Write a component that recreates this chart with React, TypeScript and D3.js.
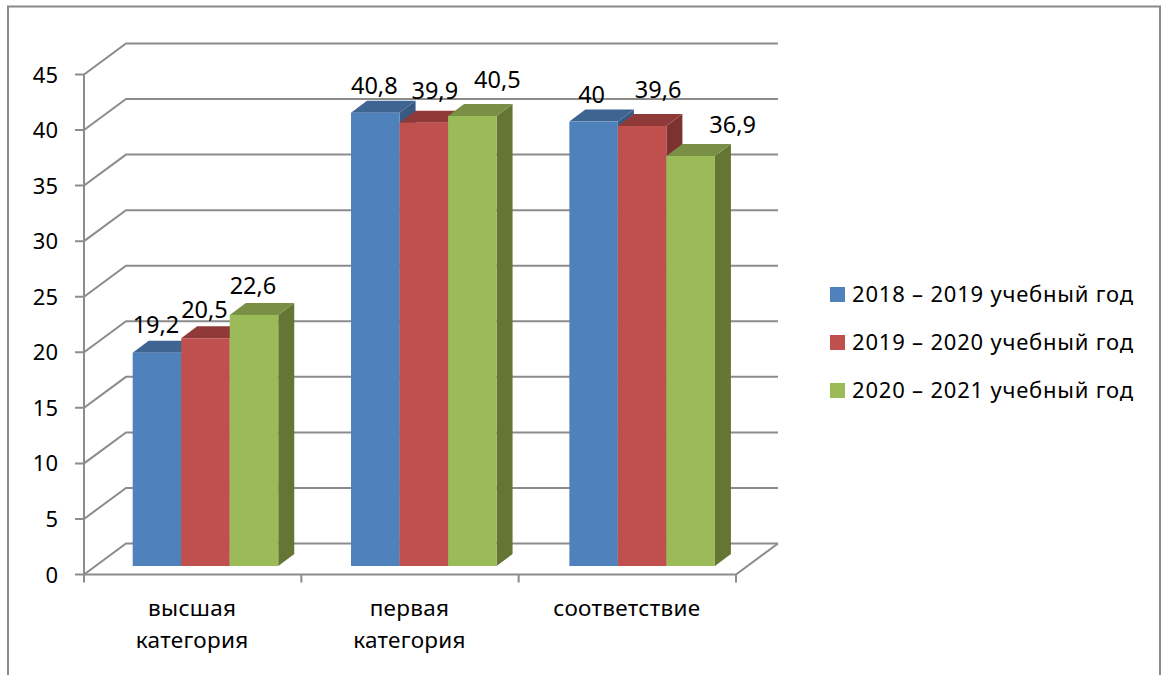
import React from 'react';
import { scaleLinear, scaleBand, range as d3range } from 'd3';

const categories = [['высшая', 'категория'], ['первая', 'категория'], ['соответствие']];
const seriesNames = ['2018 – 2019 учебный год', '2019 – 2020 учебный год', '2020 – 2021 учебный год'];
const values2018 = [19.2, 40.8, 40];
const values2019 = [20.5, 39.9, 39.6];
const values2020 = [22.6, 40.5, 36.9];
const yTicks = [0, 5, 10, 15, 20, 25, 30, 35, 40, 45];

const frontColors = ['#4f81bd', '#c0504d', '#9bbb59'];
const topColors = ['#3e6491', '#8f3a38', '#788f45'];
const sideColors = ['#375a83', '#7e3230', '#647534'];

// hand moved data labels, like in the original (dx, dy from the bar top)
const labelNudge = [
  [[-1, -20], [-1, -20], [-1, -21]],
  [[-1, -19], [11, -24], [25, -28]],
  [[-2, -19], [16, -28], [42, -23]],
];

const width = 1166;
const height = 675;
const font = '"Noto Sans", sans-serif';
const gridColor = '#8c8c8c';

// 3D box: wall is pushed back by (wallDx, wallDy) from the front axis
const wallDx = 42;
const wallDy = -31;
const barShiftY = -8.5;
const depthX = 16;
const depthY = -12;

const yScale = scaleLinear().domain([0, 45]).range([574.5, 74.5]);
const xScale = scaleBand<number>().domain(d3range(categories.length)).range([84, 736]);
// bars sit a bit further back than the front axis, so their step is slightly larger
const barScale = scaleBand<number>().domain(d3range(categories.length)).range([96.3, 751.3]);
const barWidth = (barScale.bandwidth() * 2) / 3 / 3;

const allSeries = [values2018, values2019, values2020];

const barLeft = (c: number) => barScale(c)! + barScale.bandwidth() / 6;

export default function App() {
  const y0 = yScale(0);
  return (
    <svg
      width={width}
      height={height}
      style={{ position: 'absolute', left: 0, top: 0, background: '#fff' }}
      fontFamily={font}
    >
      <path d={`M8,${height}V6.5H1160V${height}`} fill="none" stroke="#8a8a8a" strokeWidth={2} />

      {/* walls */}
      {yTicks.map(t => (
        <path
          key={t}
          d={`M75,${yScale(t)}H84L${84 + wallDx},${yScale(t) + wallDy}H${736 + wallDx}`}
          fill="none"
          stroke={gridColor}
          strokeWidth={2}
        />
      ))}
      <line x1={84} x2={84} y1={yScale(45)} y2={y0 + 8} stroke={gridColor} strokeWidth={2} />
      <path
        d={`M84,${y0}H736L${736 + wallDx},${y0 + wallDy}`}
        fill="none"
        stroke={gridColor}
        strokeWidth={2}
      />
      {d3range(1, categories.length + 1).map(i => {
        const x = 84 + i * xScale.step();
        return <line key={i} x1={x} x2={x} y1={y0} y2={y0 + 8} stroke={gridColor} strokeWidth={2} />;
      })}

      {yTicks.map(t => (
        <text key={t} x={58} y={yScale(t) + 8} textAnchor="end" fontSize={22} fill="#000">
          {t}
        </text>
      ))}

      {/* bars */}
      {categories.map((_, c) => {
        const left = barLeft(c);
        return allSeries.map((vals, s) => {
          const x = left + s * barWidth;
          const yt = yScale(vals[c]) + barShiftY;
          const yb = y0 + barShiftY;
          const xr = x + barWidth;
          return (
            <g key={s}>
              <path
                d={`M${xr},${yt}L${xr + depthX},${yt + depthY}V${yb + depthY}L${xr},${yb}Z`}
                fill={sideColors[s]}
              />
              <path
                d={`M${x},${yt}L${x + depthX},${yt + depthY}H${xr + depthX}L${xr},${yt}Z`}
                fill={topColors[s]}
              />
              <rect x={x} y={yt} width={barWidth} height={yb - yt} fill={frontColors[s]} />
            </g>
          );
        });
      })}

      {/* data labels */}
      {categories.map((_, c) =>
        allSeries.map((vals, s) => (
          <text
            key={s}
            x={barLeft(c) + (s + 0.5) * barWidth + labelNudge[c][s][0]}
            y={yScale(vals[c]) + barShiftY + labelNudge[c][s][1]}
            textAnchor="middle"
            fontSize={23.5}
            fill="#000"
          >
            {String(vals[c]).replace('.', ',')}
          </text>
        )),
      )}

      {/* category labels */}
      {categories.map((lines, c) => (
        <text key={c} textAnchor="middle" fontSize={22.5} letterSpacing={0.3} fill="#000">
          {lines.map((l, i) => (
            <tspan key={i} x={xScale(c)! + xScale.bandwidth() / 2 - 0.5} y={616 + i * 32}>
              {l}
            </tspan>
          ))}
        </text>
      ))}

      {/* legend */}
      {seriesNames.map((name, i) => (
        <g key={name}>
          <rect x={830} y={287 + i * 48} width={15} height={15} fill={frontColors[i]} />
          <text x={852} y={302 + i * 48} fontSize={22} letterSpacing={0.8} fill="#000">
            {name}
          </text>
        </g>
      ))}
    </svg>
  );
}
